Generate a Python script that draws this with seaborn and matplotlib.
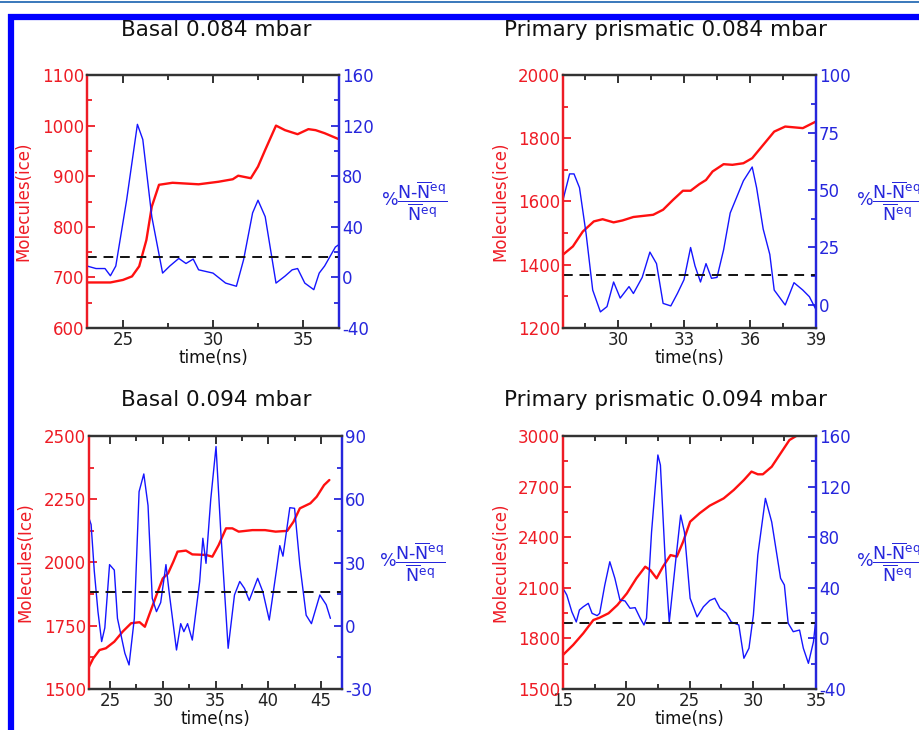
import numpy as np
import pandas as pd
import matplotlib
matplotlib.use("Agg")
import matplotlib.pyplot as plt
import seaborn as sns
from matplotlib.ticker import MultipleLocator
from matplotlib.lines import Line2D

# ---------------- data ----------------
titles = ["Basal 0.084 mbar", "Primary prismatic 0.084 mbar",
          "Basal 0.094 mbar", "Primary prismatic 0.094 mbar"]
left_labels = ["Molecules(ice)", "Molecules(ice)", "Molecules(Ice)", "Molecules(ice)"]
x_label = "time(ns)"
right_label = r"$\%\dfrac{\mathrm{N}" + "\u2010" + r"\overline{\mathrm{N}}^{\mathrm{eq}}}{\overline{\mathrm{N}}^{\mathrm{eq}}}$"

p1_red_t = [23, 24.3, 25, 25.5, 25.9, 26.3, 26.6, 27.0, 27.75, 29.2, 30.3, 31.1, 31.4, 32.1, 32.5,
            32.9, 33.5, 34.0, 34.7, 35.3, 35.7, 36.2, 37]
p1_red_v = [690, 690, 695, 702, 722, 774, 840, 883, 887, 884, 889, 894, 901, 896, 919,
            952, 1000, 991, 983, 993, 991, 985, 973]
p1_blue_t = [23, 23.5, 24.0, 24.3, 24.6, 25.2, 25.8, 26.1, 26.6, 27.2, 27.6, 28.1, 28.5, 28.9, 29.2,
             30.0, 30.7, 31.3, 31.7, 32.2, 32.5, 32.9, 33.5, 34.0, 34.4, 34.7, 35.1, 35.6, 35.9,
             36.2, 36.8, 37]
p1_blue_v = [9, 7, 7, 1.3, 9, 61, 121, 109, 48, 3.4, 9, 15, 11, 14.5, 6,
             3.4, -4.5, -7, 14, 51, 61, 48, -4.5, 1, 6, 7, -4.5, -9.7, 3.4,
             9, 24, 26]

p2_red_t = [27.5, 27.95, 28.4, 28.9, 29.3, 29.8, 30.2, 30.7, 31.6, 32.05, 32.5, 32.95, 33.3, 33.7,
            34.0, 34.3, 34.8, 35.2, 35.7, 36.1, 36.6, 37.1, 37.6, 38.4, 39]
p2_red_v = [1432, 1458, 1505, 1537, 1544, 1534, 1540, 1551, 1558, 1574, 1605, 1634, 1634, 1655,
            1668, 1695, 1718, 1716, 1721, 1737, 1779, 1821, 1837, 1832, 1853]
p2_blue_t = [27.5, 27.8, 28.0, 28.25, 28.55, 28.85, 29.2, 29.5, 29.8, 30.1, 30.5, 30.7, 31.1, 31.45,
             31.75, 32.05, 32.4, 32.7, 33.0, 33.3, 33.5, 33.75, 34.0, 34.25, 34.5, 34.8, 35.1,
             35.4, 35.7, 36.1, 36.3, 36.6, 36.9, 37.1, 37.6, 38.0, 38.4, 38.7, 39]
p2_blue_v = [45.7, 57, 57, 51, 31, 6.5, -3, -0.7, 10, 3, 8, 5, 12, 23,
             18, 0.7, -0.4, 5, 11, 25, 17, 10, 18, 11.6, 12, 24, 40,
             47, 54, 60, 51, 33, 22, 6.5, 0, 9.7, 6.5, 3.6, -2]

p3_red_t = [23, 23.4, 24.0, 24.6, 25.4, 26.2, 27.0, 27.8, 28.3, 28.7, 29.4, 30.0, 30.5, 31.0, 31.4,
            32.2, 32.8, 34.1, 34.7, 35.3, 36.0, 36.6, 37.2, 38.5, 39.7, 40.7, 41.8, 42.4, 43.0,
            44.0, 44.6, 45.3, 45.8]
p3_red_v = [1588, 1621, 1654, 1661, 1687, 1727, 1760, 1764, 1746, 1792, 1871, 1937, 1957, 2003, 2043,
            2047, 2032, 2030, 2023, 2069, 2135, 2135, 2122, 2128, 2128, 2122, 2125, 2161, 2214,
            2234, 2260, 2306, 2326]
p3_blue_t = [23, 23.2, 23.5, 23.85, 24.2, 24.5, 24.95, 25.4, 25.7, 26.4, 26.8, 27.3, 27.75, 28.2,
             28.6, 29.0, 29.4, 29.8, 30.3, 30.6, 31.3, 31.7, 32.0, 32.35, 32.8, 33.5, 33.8, 34.1,
             34.55, 35.05, 35.5, 36.2, 36.8, 37.3, 37.75, 38.2, 39.0, 39.5, 40.1, 40.8, 41.1,
             41.4, 42.05, 42.5, 43.0, 43.6, 44.1, 44.9, 45.5, 45.9]
p3_blue_v = [51, 48, 26, 6.7, -7.5, -1, 29, 26.4, 3.5, -13, -18.6, 3.5, 63.6, 72,
             57, 13, 6.7, 11, 29, 16, -11.5, 1, -2.8, 1, -6.8, 21, 41.5, 29.6,
             60, 85, 44.6, -10.7, 14.6, 21, 17.7, 12, 22.5, 16, 2.7, 27, 38,
             33, 56, 55.7, 29, 5, 1, 14.6, 10, 3.5]

p4_red_t = [15, 15.8, 16.6, 17.4, 17.9, 18.6, 19.3, 20.05, 20.8, 21.5, 21.9, 22.4, 22.9, 23.5, 24.0,
            24.5, 25.05, 25.8, 26.6, 27.7, 28.5, 29.3, 29.9, 30.4, 30.8, 31.5, 32.2, 32.9, 33.5, 34.0]
p4_red_v = [1702, 1761, 1830, 1909, 1923, 1949, 1998, 2067, 2156, 2225, 2205, 2156, 2225, 2294, 2285,
            2374, 2492, 2542, 2587, 2630, 2680, 2739, 2789, 2773, 2773, 2818, 2897, 2976, 3003, 3005]
p4_blue_t = [15, 15.3, 15.7, 16.05, 16.3, 16.6, 17.0, 17.3, 17.7, 17.9, 18.3, 18.7, 19.1, 19.5, 19.9,
             20.3, 20.7, 21.1, 21.4, 21.6, 22.0, 22.5, 22.7, 23.1, 23.4, 23.9, 24.3, 24.6, 25.05,
             25.6, 26.1, 26.6, 27.0, 27.4, 27.9, 28.3, 28.9, 29.3, 29.7, 30.05, 30.4, 31.0, 31.5,
             32.2, 32.5, 32.8, 33.2, 33.7, 34.0, 34.4, 34.8, 35.0]
p4_blue_v = [39.6, 34.3, 21, 13, 22.5, 25, 27.7, 19.8, 18, 19.8, 42, 60.6, 47.5, 30.4, 29.6,
             23.8, 24.3, 16, 10.6, 16, 84, 145, 137, 58, 13, 60.6, 97.5, 84, 31.7,
             17, 25, 30, 31.7, 24, 20, 13, 10.6, -15.7, -7.8, 18.5, 66, 110.7, 92,
             47.5, 42.2, 12, 5.3, 6.6, -7.8, -19.7, -2.6, 16]

eq_levels = [16, 13, 16.2, 12.4]

# ---------------- styling / layout ----------------
sns.set_theme(style="ticks")
plt.rcParams["font.family"] = ["DejaVu Sans"]
plt.rcParams["mathtext.fontset"] = "dejavusans"
plt.rcParams["axes.unicode_minus"] = False

RED = "#ee1c25"
BLUE = "#2626dc"
LRED = "#ff1010"
LBLUE = "#1515ff"

W, H = 919, 730
fig = plt.figure(figsize=(W / 100, H / 100), dpi=100)
fig.patch.set_facecolor("white")

def frac_rect(x0, y0, x1, y1):
    return [x0 / W, 1 - y1 / H, (x1 - x0) / W, (y1 - y0) / H]

panels = [
    dict(rect=(87, 75, 339, 328), red=(p1_red_t, p1_red_v), blue=(p1_blue_t, p1_blue_v),
         xlim=(23, 37), xmaj=5, xmin=2.5, lylim=(600, 1100), lmaj=100, lmin=50,
         rylim=(-40, 160), rmaj=40, rmin=20, title_xy=(216, 30), ylab_x=-0.215, rlab_x=1.165),
    dict(rect=(563, 75, 816, 328), red=(p2_red_t, p2_red_v), blue=(p2_blue_t, p2_blue_v),
         xlim=(27.5, 39), xmaj=3, xmin=1.5, lylim=(1200, 2000), lmaj=200, lmin=100,
         rylim=(-10, 100), rmaj=25, rmin=12.5, title_xy=(666, 30), ylab_x=-0.21, rlab_x=1.16),
    dict(rect=(89, 436, 342, 689), red=(p3_red_t, p3_red_v), blue=(p3_blue_t, p3_blue_v),
         xlim=(23, 47), xmaj=5, xmin=2.5, lylim=(1500, 2500), lmaj=250, lmin=125,
         rylim=(-30, 90), rmaj=30, rmin=15, title_xy=(216, 400), ylab_x=-0.215, rlab_x=1.145),
    dict(rect=(563, 436, 816, 689), red=(p4_red_t, p4_red_v), blue=(p4_blue_t, p4_blue_v),
         xlim=(15, 35), xmaj=5, xmin=2.5, lylim=(1500, 3000), lmaj=300, lmin=150,
         rylim=(-40, 160), rmaj=40, rmin=20, title_xy=(666, 400), ylab_x=-0.21, rlab_x=1.16),
]

for i, p in enumerate(panels):
    ax = fig.add_axes(frac_rect(*p["rect"]))
    ax2 = ax.twinx()
    ax.set_facecolor("none")

    dr = pd.DataFrame({"t": p["red"][0], "v": p["red"][1]})
    db = pd.DataFrame({"t": p["blue"][0], "v": p["blue"][1]})
    sns.lineplot(data=dr, x="t", y="v", ax=ax, color=LRED, linewidth=1.7, legend=False)
    sns.lineplot(data=db, x="t", y="v", ax=ax2, color=LBLUE, linewidth=1.0, legend=False)
    ax2.axhline(eq_levels[i], color="#111111", linewidth=1.4, linestyle=(0, (5, 3.5)))

    ax.set_xlim(*p["xlim"])
    ax.set_ylim(*p["lylim"])
    ax2.set_ylim(*p["rylim"])
    ax.xaxis.set_major_locator(MultipleLocator(p["xmaj"]))
    ax.xaxis.set_minor_locator(MultipleLocator(p["xmin"]))
    ax.yaxis.set_major_locator(MultipleLocator(p["lmaj"]))
    ax.yaxis.set_minor_locator(MultipleLocator(p["lmin"]))
    ax2.yaxis.set_major_locator(MultipleLocator(p["rmaj"]))
    ax2.yaxis.set_minor_locator(MultipleLocator(p["rmin"]))

    ax.tick_params(axis="x", which="both", direction="in", top=True, bottom=True,
                   colors="#222222", labelsize=12, pad=2, width=1.3)
    ax.tick_params(axis="x", which="major", length=6)
    ax.tick_params(axis="x", which="minor", length=3.5)
    ax.tick_params(axis="y", which="both", direction="in", left=True, right=False,
                   colors=RED, labelsize=12, pad=2, width=1.3)
    ax.tick_params(axis="y", which="major", length=6)
    ax.tick_params(axis="y", which="minor", length=3.5)
    ax2.tick_params(axis="y", which="both", direction="in", left=False, right=True,
                    colors=BLUE, labelsize=12, pad=2, width=1.3)
    ax2.tick_params(axis="y", which="major", length=6)
    ax2.tick_params(axis="y", which="minor", length=3.5)

    for a in (ax, ax2):
        a.spines["left"].set_color(RED)
        a.spines["right"].set_color(BLUE)
        a.spines["top"].set_color("#333333")
        a.spines["bottom"].set_color("#333333")
        for s in a.spines.values():
            s.set_linewidth(1.6)

    ax.set_xlabel(x_label, fontsize=12, color="#111111", labelpad=0)
    ax.set_ylabel(left_labels[i], fontsize=12, color=RED)
    ax.yaxis.set_label_coords(p["ylab_x"], 0.5)
    ax2.set_ylabel(right_label, fontsize=12.5, color=BLUE, rotation=0,
                   ha="left", va="center")
    ax2.yaxis.set_label_coords(p["rlab_x"], 0.5)

    tx, ty = p["title_xy"]
    fig.text(tx / W, 1 - ty / H, titles[i], fontsize=15.5, color="#111111",
             ha="center", va="center")

# figure frame decorations
fig.add_artist(Line2D([0, 1], [1 - 2 / H, 1 - 2 / H], transform=fig.transFigure,
                      color="#2a6db5", linewidth=1.3))
fig.add_artist(Line2D([8 / W, 1], [1 - 17 / H, 1 - 17 / H], transform=fig.transFigure,
                      color="#0000ff", linewidth=4.5, solid_capstyle="butt"))
fig.add_artist(Line2D([11 / W, 11 / W], [1 - 14 / H, 0], transform=fig.transFigure,
                      color="#0000ff", linewidth=4.5, solid_capstyle="butt"))

fig.savefig("out.png", dpi=100, facecolor="white")
